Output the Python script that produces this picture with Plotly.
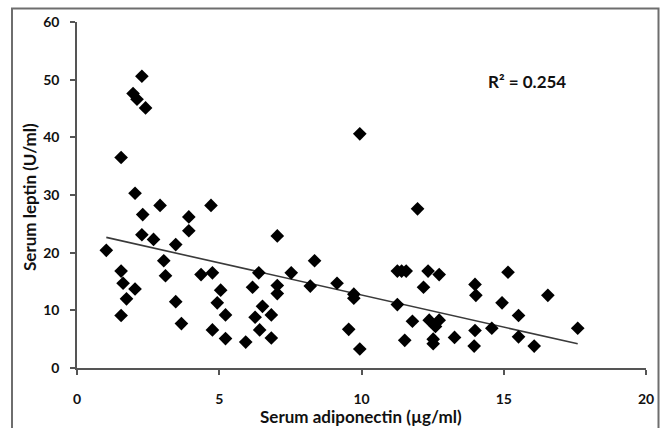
import plotly.graph_objects as go

adiponectin = [1.03, 1.55, 1.55, 1.62, 1.74, 1.55, 2.04, 2.04, 1.97, 2.11,
               2.28, 2.41, 2.31, 2.28, 2.69, 2.92, 3.05, 3.11, 3.47, 3.47,
               3.67, 3.93, 3.93, 4.36, 4.71, 4.76, 4.76, 4.93, 5.05, 5.22,
               5.22, 5.93, 6.17, 6.26, 6.39, 6.42, 6.52, 6.83, 6.83, 7.04,
               7.04, 7.04, 7.53, 8.20, 8.35, 9.14, 9.55, 9.73, 9.73, 9.94,
               9.94, 11.26, 11.41, 11.57, 11.26, 11.52, 11.79, 11.97, 12.18, 12.34,
               12.38, 12.60, 12.52, 12.52, 12.73, 12.73, 13.27, 13.99, 14.02, 13.99,
               13.96, 14.58, 14.94, 15.15, 15.52, 15.52, 16.07, 16.55, 17.60]
leptin = [20.4, 36.5, 16.8, 14.7, 12.0, 9.1, 30.3, 13.7, 47.6, 46.6,
          50.6, 45.1, 26.6, 23.1, 22.3, 28.2, 18.6, 16.0, 21.4, 11.5,
          7.7, 26.2, 23.8, 16.2, 28.2, 16.5, 6.6, 11.3, 13.5, 9.2,
          5.1, 4.5, 14.0, 8.8, 16.5, 6.6, 10.7, 9.2, 5.2, 22.9,
          14.3, 12.9, 16.5, 14.2, 18.6, 14.7, 6.7, 12.8, 12.1, 40.6,
          3.3, 16.8, 16.8, 16.8, 11.0, 4.8, 8.1, 27.6, 14.0, 16.8,
          8.3, 7.2, 5.0, 4.2, 16.2, 8.3, 5.3, 14.5, 12.6, 6.5,
          3.8, 6.9, 11.3, 16.6, 9.1, 5.4, 3.8, 12.6, 6.9]

trend_slope = -1.114
trend_intercept = 23.8
trend_x = [1.03, 17.6]
trend_y = [trend_intercept + trend_slope * v for v in trend_x]

x_ticks = [0, 5, 10, 15, 20]
y_ticks = [0, 10, 20, 30, 40, 50, 60]
r2_label = "R² = 0.254"
x_title = "Serum adiponectin (µg/ml)"
y_title = "Serum leptin (U/ml)"

FONT = "Lato, Open Sans, sans-serif"
TXT = "#111111"
W, H = 661, 428
L, R, T, B = 77, 15, 22, 60
PW, PH = W - L - R, H - T - B


def px_x(p):
    return (p - L) / PW


def px_y(p):
    return (H - B - p) / PH


fig = go.Figure()
fig.add_trace(go.Scatter(
    x=trend_x, y=trend_y, mode="lines",
    line=dict(color="#3a3a3a", width=1.6), hoverinfo="skip", showlegend=False))
fig.add_trace(go.Scatter(
    x=adiponectin, y=leptin, mode="markers",
    marker=dict(symbol="diamond", size=10.5, color="#000000", line=dict(width=0)),
    showlegend=False))

fig.update_layout(
    width=W, height=H,
    margin=dict(l=L, r=R, t=T, b=B),
    paper_bgcolor="white", plot_bgcolor="white",
    font=dict(family=FONT, color=TXT),
    xaxis=dict(range=[0, 20], tickvals=x_ticks, showgrid=False, zeroline=False,
               automargin=False,
               showline=True, linecolor="#555555", linewidth=1.5,
               ticks="outside", ticklen=5, tickcolor="#555555", tickwidth=1.5,
               tickfont=dict(family=FONT, size=14, color=TXT, weight="bold"),
               ticklabelstandoff=12),
    yaxis=dict(range=[0, 60], tickvals=y_ticks, showgrid=False, zeroline=False,
               automargin=False,
               showline=True, linecolor="#555555", linewidth=1.5,
               ticks="outside", ticklen=5, tickcolor="#555555", tickwidth=1.5,
               tickfont=dict(family=FONT, size=14, color=TXT, weight="bold"),
               ticklabelstandoff=8),
    annotations=[
        dict(text="<b>" + r2_label + "</b>", x=15.8, y=49.6, xref="x", yref="y",
             showarrow=False, font=dict(family=FONT, size=17, color=TXT)),
        dict(text="<b>" + x_title + "</b>", x=px_x(361), y=px_y(416),
             xref="paper", yref="paper", showarrow=False,
             xanchor="center", yanchor="middle",
             font=dict(family=FONT, size=17, color=TXT)),
        dict(text="<b>" + y_title + "</b>", x=px_x(29), y=px_y(197),
             xref="paper", yref="paper", showarrow=False, textangle=-90,
             xanchor="center", yanchor="middle",
             font=dict(family=FONT, size=17, color=TXT)),
    ],
    shapes=[dict(type="path", xref="paper", yref="paper",
                 path="M {x0},{yb} L {x0},{yt} L {x1},{yt} L {x1},{yb}".format(
                     x0=px_x(12), x1=px_x(658.5), yt=px_y(8.5), yb=px_y(440)),
                 line=dict(color="#6e6e6e", width=2), layer="above")],
)

fig.write_html("out.html", config={"displayModeBar": False},
               post_script="document.body.style.margin='0px';")
